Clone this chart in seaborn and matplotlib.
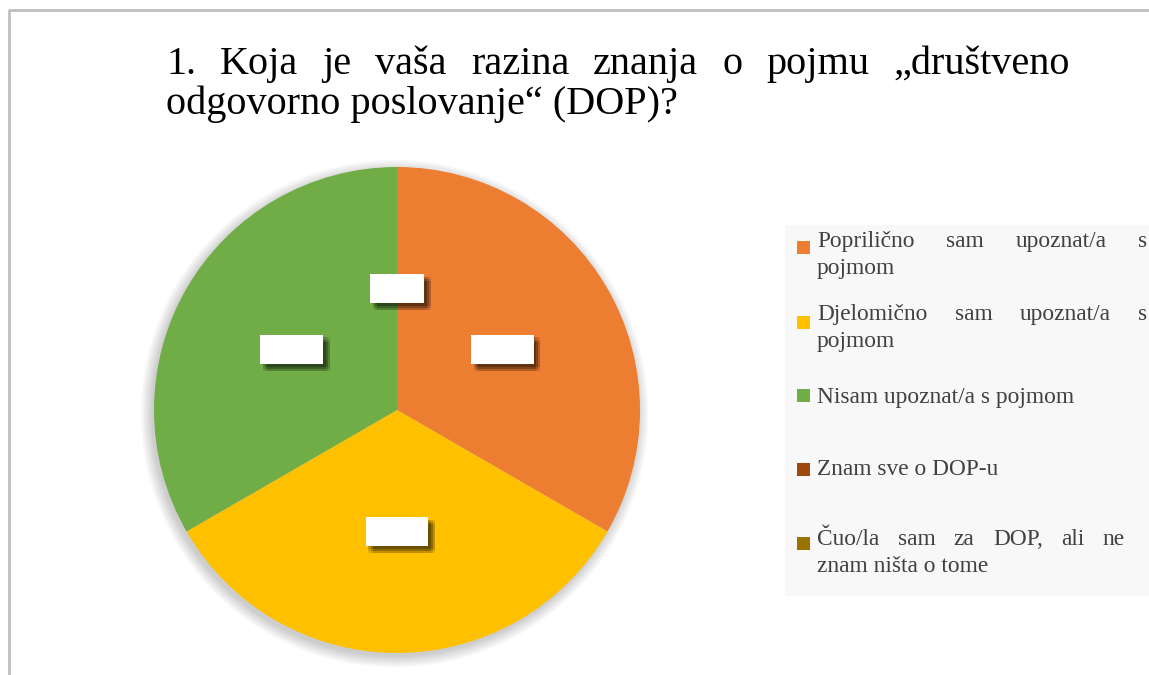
import matplotlib
matplotlib.use("Agg")
import matplotlib.pyplot as plt
import matplotlib.patheffects as pe
from matplotlib.patches import Circle, Rectangle
from matplotlib.lines import Line2D
import seaborn as sns

# data (three equal answers, two with zero)
categories = [
    "Popriličnosam upoznat/a s pojmom",
    "Djelomično sam upoznat/a s pojmom",
    "Nisam upoznat/a s pojmom",
    "Znam sve o DOP-u",
    "Čuo/la sam za DOP, ali ne znam ništa o tome",
]
counts = [1, 1, 1, 0, 0]
colors = ["#ED7D31", "#FFC000", "#70AD47", "#9E480E", "#997300"]

# legend lines as they wrap in the reference (justified lines flagged True)
legend_lines = [
    [("Popriličnosam upoznat/a s".replace("nosam", "no sam"), True), ("pojmom", False)],
    [("Djelomično sam upoznat/a s", True), ("pojmom", False)],
    [("Nisam upoznat/a s pojmom", False)],
    [("Znam sve o DOP-u", False)],
    [("Čuo/la sam za DOP, ali ne", True), ("znam ništa o tome", False)],
]
title_line1 = "1. Koja je vaša razina znanja o pojmu „društveno"
title_line2 = "odgovorno poslovanje“ (DOP)?"

sns.set_theme(style="white")
plt.rcParams["font.family"] = ["Liberation Serif", "DejaVu Serif"]

W, H = 1149, 675
fig = plt.figure(figsize=(W / 100, H / 100), dpi=100)
fig.patch.set_facecolor("white")
renderer = fig.canvas.get_renderer()


def fx(px):
    return px / W


def fy(py):
    return 1 - py / H


def justified(words, x0, x1, y, size, color):
    arts = [fig.text(fx(x0), fy(y), w, fontsize=size, color=color, va="baseline", ha="left")
            for w in words]
    widths = [a.get_window_extent(renderer).width for a in arts]
    gap = (x1 - x0 - sum(widths)) / max(len(words) - 1, 1)
    x = x0
    for a, w in zip(arts, widths):
        a.set_x(fx(x))
        x += w + gap


# outer frame (cut off on the right and bottom)
fig.add_artist(Line2D([fx(9), fx(9), fx(W + 5)], [fy(H + 5), fy(10), fy(10)],
                      color="#BFBFBF", lw=2))

# title
justified(title_line1.split(" "), 166, 1070, 74, 29, "black")
fig.text(fx(166), fy(114), title_line2, fontsize=29, color="black", va="baseline")

# pie
cx, cy, r = 397, 410, 243
ax = fig.add_axes([fx(cx - r), fy(cy + r), 2 * r / W, 2 * r / H])

# soft glow behind the pie
for k in range(10):
    ax.add_patch(Circle((-0.01, -0.015), 1.0 + 0.005 * k, color="black",
                        alpha=0.018, lw=0, zorder=0, clip_on=False))

palette = sns.color_palette(colors)


def pct(p):
    return "  {:.0f}%  ".format(p)


wedges, texts, autotexts = ax.pie(
    counts, colors=palette, startangle=90, counterclock=False, radius=1,
    autopct=pct, pctdistance=0.5,
    wedgeprops=dict(linewidth=0),
    textprops=dict(color="white", fontsize=12.5),
)
ax.set_xlim(-1, 1)
ax.set_ylim(-1, 1)
ax.set_aspect("equal")
ax.axis("off")

shadow = [pe.SimplePatchShadow(offset=(dx, dy), shadow_rgbFace="black", alpha=0.09)
          for dx in (2, 3.5, 5) for dy in (-2, -3.5, -5)]
for t in autotexts:
    t.set_bbox(dict(boxstyle="square,pad=0.38", facecolor="white", edgecolor="none"))
    t.get_bbox_patch().set_path_effects(shadow + [pe.Normal()])
    t.set_zorder(5)
# the two empty answers share one label spot
autotexts[4].set_visible(False)

# legend panel
fig.add_artist(Rectangle((fx(785), fy(596)), fx(W - 785 + 5), (596 - 225) / H,
                         facecolor="#F8F8F8", edgecolor="none", zorder=0))
square_tops = [241, 316, 389, 463, 537]
baselines = [247, 320, 403, 475, 545]
right_edges = [1147, 1147, 1147, 1147, 1125]
line_gap = 27
for i, lines in enumerate(legend_lines):
    fig.add_artist(Rectangle((fx(797), fy(square_tops[i] + 13)), 13 / W, 13 / H,
                             facecolor=palette[i], edgecolor="none"))
    for j, (txt, just) in enumerate(lines):
        y = baselines[i] + j * line_gap
        if just:
            justified(txt.split(" "), 817, right_edges[i], y, 16.8, "#404040")
        else:
            fig.text(fx(817), fy(y), txt, fontsize=16.8, color="#404040", va="baseline")

fig.savefig("out.png", dpi=100)
